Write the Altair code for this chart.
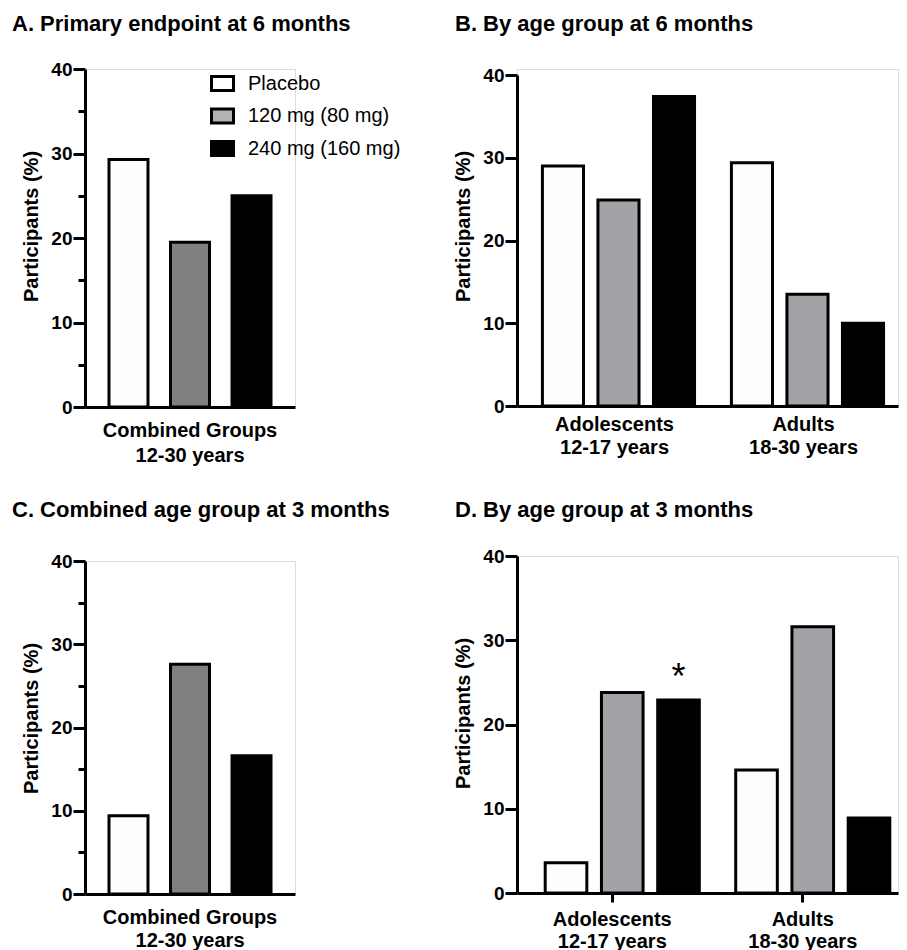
import altair as alt
import pandas as pd

FONT = "Liberation Sans"

series = ["Placebo", "120 mg (80 mg)", "240 mg (160 mg)"]
combined_group = ["Combined Groups|12-30 years"]
age_groups = ["Adolescents|12-17 years", "Adults|18-30 years"]

a_values = [29.3, 19.5, 25.0]
b_adolescents = [29.0, 24.9, 37.4]
b_adults = [29.4, 13.5, 10.0]
c_values = [9.4, 27.6, 16.6]
d_adolescents = [3.6, 23.8, 22.9]
d_adults = [14.6, 31.6, 8.9]

titles = [
    "A. Primary endpoint at 6 months",
    "B. By age group at 6 months",
    "C. Combined age group at 3 months",
    "D. By age group at 3 months",
]

colors_ac = ["#fdfdfd", "#808080", "#000000"]
colors_bd = ["#fdfdfd", "#a3a2a7", "#000000"]
legend_colors = ["#ffffff", "#b3b3b3", "#000000"]
y_title = "Participants (%)"


def frame(groups, value_lists):
    rows = []
    for g, vals in zip(groups, value_lists):
        for s, v in zip(series, vals):
            rows.append({"group": g, "series": s, "value": v})
    return pd.DataFrame(rows)


df_a = frame(combined_group, [a_values])
df_b = frame(age_groups, [b_adolescents, b_adults])
df_c = frame(combined_group, [c_values])
df_d = frame(age_groups, [d_adolescents, d_adults])
df_star = pd.DataFrame([{"group": age_groups[0], "series": series[2],
                         "value": d_adolescents[2], "mark": "*"}])


def encodings(groups, minor, xticks, xscale, xoffscale, yscale, lab_pad, line_h):
    x = alt.X(
        "group:N", sort=groups, scale=xscale,
        axis=alt.Axis(
            title=None, labelExpr="split(datum.label, '|')", labelAngle=0,
            ticks=xticks, tickSize=9 if xticks else 0, tickWidth=3, tickColor="black",
            labelFont=FONT, labelFontSize=20, labelFontWeight="bold", labelColor="black",
            labelPadding=lab_pad, labelLineHeight=line_h,
            domainWidth=3, domainColor="black", labelBaseline="top",
        ),
    )
    yvals = list(range(0, 41, 5)) if minor else [0, 10, 20, 30, 40]
    y = alt.Y(
        "value:Q", scale=yscale,
        axis=alt.Axis(
            title=y_title, values=yvals,
            labelExpr="datum.value % 10 == 0 ? datum.label : ''",
            tickSize={"condition": {"test": "datum.value % 10 == 0", "value": 12}, "value": 7},
            tickWidth=3, tickColor="black", domainWidth=3, domainColor="black", grid=False,
            labelFont=FONT, labelFontSize=19, labelFontWeight="bold", labelColor="black",
            labelPadding=1,
            titleFont=FONT, titleFontSize=20, titleFontWeight="bold", titleColor="black",
            titleX=-44, titleY=157, titleAngle=270, titleBaseline="bottom",
        ),
    )
    xo = alt.XOffset("series:N", sort=series, scale=xoffscale)
    return x, y, xo


def make_title(text, dx, offset):
    return alt.TitleParams(text=text, anchor="start", frame="group", dx=dx, offset=offset,
                           font=FONT, fontSize=22, fontWeight="bold", color="black",
                           baseline="alphabetic")


def panel(df, groups, colors, title, dx, offset, width, height, minor, xticks,
          xscale, xoffscale, yscale, lab_pad, line_h, legend=False, star=None):
    x, y, xo = encodings(groups, minor, xticks, xscale, xoffscale, yscale, lab_pad, line_h)
    bars = alt.Chart(df).mark_bar(stroke="black", strokeWidth=3).encode(
        x=x, y=y, xOffset=xo,
        fill=alt.Fill("series:N", sort=series,
                      scale=alt.Scale(domain=series, range=colors), legend=None),
    )
    layers = [bars]
    if legend:
        hidden = alt.Chart(df).transform_filter("false").mark_bar(
            stroke="black", strokeWidth=3).encode(
            x=x, y=y, xOffset=xo,
            fill=alt.Fill("series:N", sort=series,
                          scale=alt.Scale(domain=series, range=legend_colors),
                          legend=alt.Legend(
                              title=None, orient="none", legendX=125, legendY=2,
                              symbolType="M-1,-0.64L1,-0.64L1,0.64L-1,0.64Z",
                              symbolSize=484, symbolStrokeColor="black",
                              symbolStrokeWidth=3, symbolOpacity=1,
                              labelFont=FONT, labelFontSize=20, labelColor="black",
                              labelOffset=13, rowPadding=5.5, padding=0,
                          )),
        )
        layers.append(hidden)
    if star is not None:
        txt = alt.Chart(star).mark_text(font=FONT, fontSize=36, baseline="alphabetic",
                                        dy=-11, color="black").encode(
            x=x, y=y, xOffset=xo, text="mark:N")
        layers.append(txt)
    return alt.layer(*layers).resolve_scale(fill="independent").properties(
        width=width, height=height, title=make_title(title, dx, offset))


ac_x = alt.Scale(paddingInner=0, paddingOuter=0)
ac_xo = alt.Scale(paddingInner=0.366, paddingOuter=0.39)
b_x = alt.Scale(paddingInner=0, paddingOuter=0.00794, align=1.0)
b_xo = alt.Scale(paddingInner=0.26, paddingOuter=0.332, align=0.608)
d_x = alt.Scale(paddingInner=0, paddingOuter=0)
d_xo = alt.Scale(paddingInner=0.26, paddingOuter=0.3236, align=0.775)

y_std = alt.Scale(domain=[0, 40], nice=False)
y_b = alt.Scale(domain=[0, 40], nice=False, range=[337, 6])

pa = panel(df_a, combined_group, colors_ac, titles[0], -73, 7, 210, 338, True, False,
           ac_x, ac_xo, y_std, 13, 25, legend=True)
pc = panel(df_c, combined_group, colors_ac, titles[2], -73, 13, 210, 333, True, False,
           ac_x, ac_xo, y_std, 13, 23)
pb = panel(df_b, age_groups, colors_bd, titles[1], -62, 13, 381, 337, False, False,
           b_x, b_xo, y_b, 8, 23)
pd_ = panel(df_d, age_groups, colors_bd, titles[3], -62, 8, 381, 337, False, True,
            d_x, d_xo, y_std, 7, 22, star=df_star)

indep = dict(fill="independent", x="independent", y="independent", xOffset="independent")
left = alt.vconcat(pa, pc, spacing=154, bounds="flush").resolve_scale(**indep)
right = alt.vconcat(pb, pd_, spacing=150, bounds="flush").resolve_scale(**indep)
chart = alt.hconcat(left, right, spacing=432, bounds="flush").resolve_scale(**indep).properties(
    padding={"left": 3, "top": 4, "right": 0, "bottom": 0}
).configure_view(strokeWidth=0).configure(background="white")

chart.save("out.html", embed_options={"renderer": "svg", "actions": False})
